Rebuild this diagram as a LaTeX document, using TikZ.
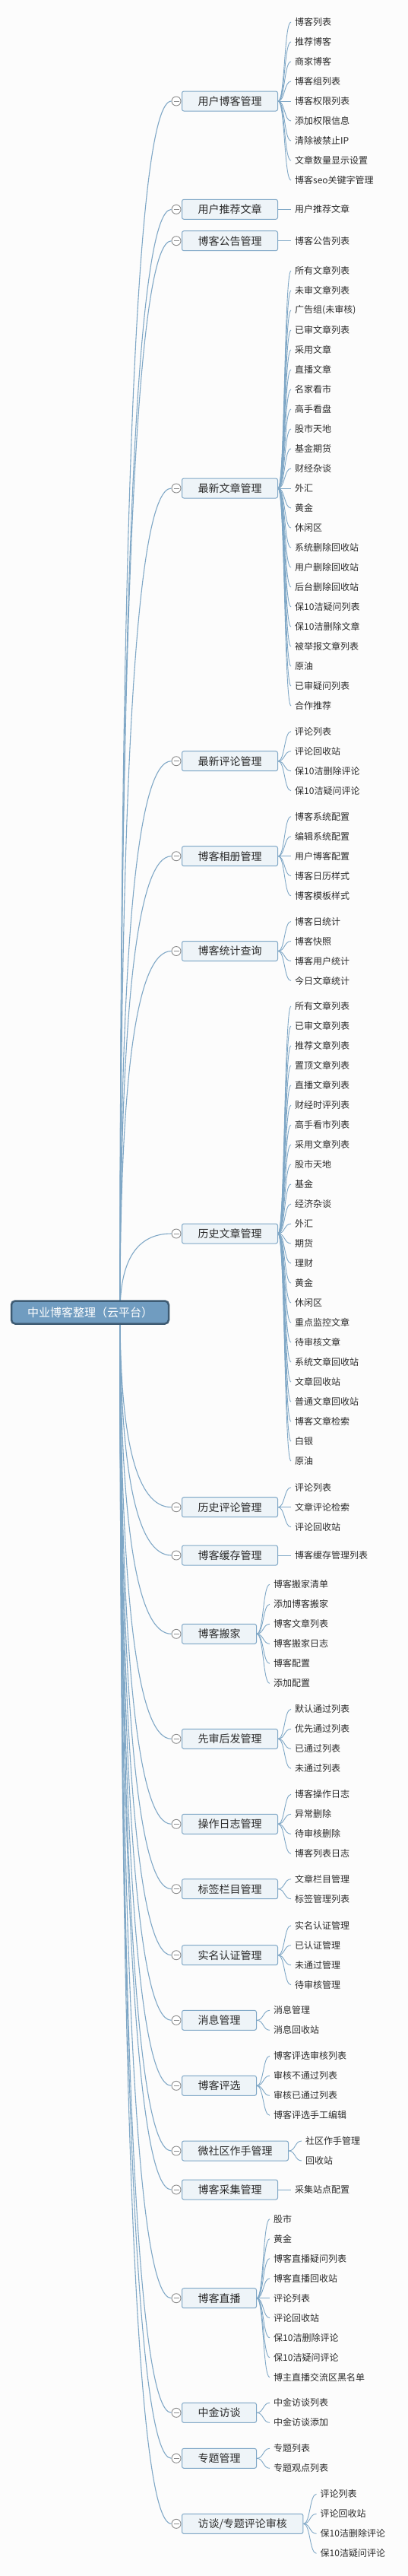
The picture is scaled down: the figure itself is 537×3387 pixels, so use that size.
\documentclass[tikz,border=0pt]{standalone}
\usepackage{fontspec}
\newfontfamily\cjk{Noto Sans CJK SC}
\usetikzlibrary{calc}
\definecolor{bgc}{HTML}{FCFCFC}
\definecolor{lnc}{HTML}{7FA7C6}
\definecolor{bfill}{HTML}{EEF4F8}
\definecolor{bdraw}{HTML}{7FA7C6}
\definecolor{rfill}{HTML}{709CC0}
\definecolor{rdraw}{HTML}{3E5B73}
\definecolor{txt}{HTML}{2B2B2B}
\definecolor{circc}{HTML}{8C8C8C}
\newcommand\addbranch[5]{%
  \node[mmcirc] (#1c) at (232,#2) {};
  \node[mmbox, anchor=west] (#1) at (239,#2) {#3};
  \coordinate (#1k) at (rs |- #1c.west);
  \draw[rootline] (rs) .. controls ($(rs)!2/3!(#1k)$) and ($(#1c.west)!2/3!(#1k)$) .. (#1c.west);
  \foreach \lbl [count=\i] in {#5} {
    \pgfmathsetmacro\dy{(\i-(#4+1)/2)*26}
    \node[mmleaf, anchor=west] (#1l\i) at ($(#1.east)+(17,\dy)$) {\lbl};
    \draw[leafline] (#1.east) .. controls +(9,0) and +(-9,0) .. (#1l\i.west);
  }%
}
\begin{document}
\begin{tikzpicture}[x=1pt,y=-1pt,
  mmroot/.style={rectangle, rounded corners=5pt, fill=rfill, draw=rdraw, line width=2.5pt, text=white, font=\cjk\fontsize{15pt}{18pt}\selectfont, minimum width=207pt, minimum height=30pt, inner sep=0pt},
  mmbox/.style={rectangle, rounded corners=2.5pt, fill=bfill, draw=bdraw, line width=1pt, text=txt, font=\cjk\fontsize{14pt}{16pt}\selectfont, inner xsep=21pt, inner ysep=0pt, minimum height=26pt},
  mmleaf/.style={font=\cjk\fontsize{12pt}{14pt}\selectfont, text=txt, inner xsep=5pt, inner ysep=2pt},
  mmcirc/.style={circle, draw=circc, fill=white, line width=0.9pt, minimum size=12pt, inner sep=0pt,
    path picture={\draw[circc, line width=0.9pt] ([xshift=-3.5pt]path picture bounding box.center) -- ([xshift=3.5pt]path picture bounding box.center);}},
  rootline/.style={draw=lnc, line width=1.1pt},
  leafline/.style={draw=lnc, line width=0.9pt}]
\fill[bgc] (0,0) rectangle (537,3387);
\useasboundingbox (0,0) rectangle (537,3387);
\coordinate (rs) at (158,1725.5);
\addbranch{b1}{133}{用户博客管理}{9}{博客列表,推荐博客,商家博客,博客组列表,博客权限列表,添加权限信息,清除被禁止IP,文章数量显示设置,博客seo关键字管理}
\addbranch{b2}{275.3}{用户推荐文章}{1}{用户推荐文章}
\addbranch{b3}{316.7}{博客公告管理}{1}{博客公告列表}
\addbranch{b4}{642}{最新文章管理}{23}{所有文章列表,未审文章列表,广告组(未审核),已审文章列表,采用文章,直播文章,名家看市,高手看盘,股市天地,基金期货,财经杂谈,外汇,黄金,休闲区,系统删除回收站,用户删除回收站,后台删除回收站,保10洁疑问列表,保10洁删除文章,被举报文章列表,原油,已审疑问列表,合作推荐}
\addbranch{b5}{1000.7}{最新评论管理}{4}{评论列表,评论回收站,保10洁删除评论,保10洁疑问评论}
\addbranch{b6}{1125.7}{博客相册管理}{5}{博客系统配置,编辑系统配置,用户博客配置,博客日历样式,博客模板样式}
\addbranch{b7}{1250.5}{博客统计查询}{4}{博客日统计,博客快照,博客用户统计,今日文章统计}
\addbranch{b8}{1622}{历史文章管理}{24}{所有文章列表,已审文章列表,推荐文章列表,置顶文章列表,直播文章列表,财经时评列表,高手看市列表,采用文章列表,股市天地,基金,经济杂谈,外汇,期货,理财,黄金,休闲区,重点监控文章,待审核文章,系统文章回收站,文章回收站,普通文章回收站,博客文章检索,白银,原油}
\addbranch{b9}{1981.7}{历史评论管理}{3}{评论列表,文章评论检索,评论回收站}
\addbranch{b10}{2045}{博客缓存管理}{1}{博客缓存管理列表}
\addbranch{b11}{2148.3}{博客搬家}{6}{博客搬家清单,添加博客搬家,博客文章列表,博客搬家日志,博客配置,添加配置}
\addbranch{b12}{2286.3}{先审后发管理}{4}{默认通过列表,优先通过列表,已通过列表,未通过列表}
\addbranch{b13}{2398.3}{操作日志管理}{4}{博客操作日志,异常删除,待审核删除,博客列表日志}
\addbranch{b14}{2483.7}{标签栏目管理}{2}{文章栏目管理,标签管理列表}
\addbranch{b15}{2570.7}{实名认证管理}{4}{实名认证管理,已认证管理,未通过管理,待审核管理}
\addbranch{b16}{2656.3}{消息管理}{2}{消息管理,消息回收站}
\addbranch{b17}{2742.3}{博客评选}{4}{博客评选审核列表,审核不通过列表,审核已通过列表,博客评选手工编辑}
\addbranch{b18}{2828}{微社区作手管理}{2}{社区作手管理,回收站}
\addbranch{b19}{2879}{博客采集管理}{1}{采集站点配置}
\addbranch{b20}{3021.7}{博客直播}{9}{股市,黄金,博客直播疑问列表,博客直播回收站,评论列表,评论回收站,保10洁删除评论,保10洁疑问评论,博主直播交流区黑名单}
\addbranch{b21}{3172.3}{中金访谈}{2}{中金访谈列表,中金访谈添加}
\addbranch{b22}{3232.3}{专题管理}{2}{专题列表,专题观点列表}
\addbranch{b23}{3318.3}{访谈/专题评论审核}{4}{评论列表,评论回收站,保10洁删除评论,保10洁疑问评论}
\node[mmroot] (root) at (118.5,1725.5) {中业博客整理（云平台）};
\end{tikzpicture}
\end{document}
